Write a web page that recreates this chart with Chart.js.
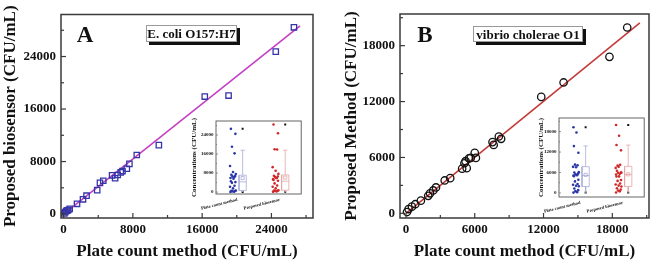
<!DOCTYPE html>
<html>
<head>
<meta charset="utf-8">
<script src="https://cdn.jsdelivr.net/npm/chart.js@4.4.1/dist/chart.umd.min.js"></script>
<style>
  html, body { margin: 0; padding: 0; background: #fff; }
  #wrap { position: relative; width: 656px; height: 264px; overflow: hidden; }
  canvas { position: absolute; }
</style>
</head>
<body>
<div id="wrap">
  <canvas id="mainA" width="328" height="264" style="left:0;top:0"></canvas>
  <canvas id="mainB" width="328" height="264" style="left:328px;top:0"></canvas>
  <canvas id="insetA" width="120" height="100" style="left:186px;top:115px"></canvas>
  <canvas id="insetB" width="120" height="106" style="left:529px;top:112px"></canvas>
</div>
<script>
// ---- data ----
// Panel A: E. coli O157:H7 (plate count vs proposed biosensor)
const plateA  = [80, 190, 320, 450, 540, 700, 1550, 2240, 2650, 3880, 4200, 4580, 5600, 5950, 6250, 6600, 6800, 7300, 7600, 8450, 11000, 16300, 19050, 24500, 26600];
const sensorA = [100, 300, 480, 560, 620, 800, 1560, 2250, 2800, 3650, 4750, 5080, 5900, 5450, 5950, 6350, 6550, 6900, 7650, 9000, 10500, 17900, 18050, 24750, 28450];
const fitAx = [0, 27300];
const fitAy = [0, 28650];
const ticksA = [0, 8000, 16000, 24000];

// Panel B: vibrio cholerae O1 (plate count vs proposed method)
const plateB  = [90, 230, 520, 810, 1300, 1940, 2100, 2380, 2620, 3380, 3860, 4900, 5300, 5100, 5200, 5500, 5650, 6000, 6100, 7550, 7650, 8100, 8300, 11800, 13750, 17750, 19300];
const methodB = [140, 460, 720, 980, 1360, 1880, 2150, 2460, 2780, 3530, 3780, 4800, 4850, 5380, 5600, 5900, 5950, 6500, 5950, 7650, 7350, 8250, 8000, 12500, 14050, 16800, 19950];
const fitBx = [0, 20400];
const fitBy = [0, 20450];
const ticksB = [0, 6000, 12000, 18000];

// inset box charts, one entry per category
const insetCats = ['Plate count method', 'Proposed biosensor'];
const boxA_min = [80, 100],    boxA_q1 = [700, 800],   boxA_med = [4300, 4600], boxA_q3 = [7100, 7200];
const boxA_hi  = [17600, 17600], boxA_max = [26600, 28450], boxA_mean = [5900, 6100];
const insetTicksA = [0, 8000, 16000, 24000];
const boxB_min = [90, 140],    boxB_q1 = [1860, 1900], boxB_med = [5100, 5400], boxB_q3 = [7700, 7800];
const boxB_hi  = [13800, 14050], boxB_max = [19300, 19950], boxB_mean = [5300, 5450];
const insetTicksB = [0, 6000, 12000, 18000];

// ---- layout / style ----
const SERIF = "'Liberation Serif', 'Times New Roman', serif";
const INK = '#111';
const CAT_POS = [1, 3];
const JITTER = [-0.12, 0.05, -0.03, 0.1, -0.08, 0.13, 0, -0.14, 0.07, -0.05, 0.11, -0.1, 0.02];

function zeroPad(s) { s.paddingLeft = s.paddingRight = s.paddingTop = s.paddingBottom = 0; }

// frame around the plot + inward ticks
const framePlugin = {
  id: 'frame',
  afterDatasetsDraw(chart, args, o) {
    const { ctx, chartArea: a } = chart;
    ctx.save();
    ctx.strokeStyle = o.color;
    ctx.lineWidth = o.width;
    ctx.strokeRect(a.left, a.top, a.right - a.left, a.bottom - a.top);
    ctx.lineWidth = o.tickWidth;
    const doTicks = (scale, horiz) => {
      const vals = scale.ticks.map(t => t.value);
      const step = vals[1] - vals[0];
      for (let k = -4; k <= vals.length * 2 + 4; k++) {
        const v = vals[0] + k * step / 2;
        if (v < scale.min || v > scale.max) continue;
        const len = k % 2 === 0 ? o.major : o.minor;
        const p = scale.getPixelForValue(v);
        ctx.beginPath();
        if (horiz) { ctx.moveTo(p, a.bottom); ctx.lineTo(p, a.bottom - len); }
        else { ctx.moveTo(a.left, p); ctx.lineTo(a.left + len, p); }
        ctx.stroke();
      }
    };
    if (o.ticksX) doTicks(chart.scales.x, true);
    if (o.ticksY) doTicks(chart.scales.y, false);
    ctx.restore();
  }
};

// panel letter and shadowed label box
const marksPlugin = {
  id: 'marks',
  afterDraw(chart, args, o) {
    const ctx = chart.ctx;
    ctx.save();
    ctx.fillStyle = INK;
    ctx.textAlign = 'center';
    ctx.textBaseline = 'alphabetic';
    ctx.font = 'bold 23px ' + SERIF;
    ctx.fillText(o.letter, o.lx, o.ly);
    ctx.fillStyle = '#111';
    ctx.fillRect(o.bx + 3, o.by + 3, o.bw, o.bh);
    ctx.fillStyle = '#fff';
    ctx.fillRect(o.bx, o.by, o.bw, o.bh);
    ctx.strokeStyle = '#999';
    ctx.lineWidth = 1;
    ctx.strokeRect(o.bx + 0.5, o.by + 0.5, o.bw - 1, o.bh - 1);
    ctx.fillStyle = INK;
    ctx.font = 'bold 13px ' + SERIF;
    ctx.fillText(o.label, o.bx + o.bw / 2, o.by + o.bh / 2 + 4.5);
    ctx.restore();
  }
};

function mainChart(id, o) {
  return new Chart(document.getElementById(id), {
    type: 'scatter',
    data: {
      datasets: [
        {
          data: o.xs.map((x, i) => ({ x, y: o.ys[i] })),
          pointStyle: o.style, pointRadius: o.r, borderColor: o.ptColor,
          backgroundColor: 'rgba(0,0,0,0)', borderWidth: 1.3
        },
        {
          type: 'line',
          data: o.fx.map((x, i) => ({ x, y: o.fy[i] })),
          borderColor: o.lineColor, borderWidth: 1.6, pointRadius: 0, fill: false
        }
      ]
    },
    options: {
      responsive: false, animation: false,
      layout: { padding: o.pad },
      plugins: {
        legend: { display: false }, tooltip: { enabled: false },
        frame: { color: '#3a3a3a', width: 1.5, tickWidth: 1.2, major: 5, minor: 3, ticksX: true, ticksY: true },
        marks: o.marks
      },
      scales: {
        x: {
          type: 'linear', min: o.xmin, max: o.xmax,
          afterBuildTicks: s => { s.ticks = o.ticks.map(v => ({ value: v })); },
          afterFit: s => { s.height = 46; zeroPad(s); },
          grid: { display: false, drawTicks: false }, border: { display: false },
          ticks: { callback: v => v, color: INK, padding: 4, maxRotation: 0, font: { family: SERIF, size: 13, weight: 'bold' } },
          title: { display: true, text: 'Plate count method (CFU/mL)', color: INK, padding: { top: 0, bottom: 2 }, font: { family: SERIF, size: 17, weight: 'bold' } }
        },
        y: {
          type: 'linear', min: o.ymin, max: o.ymax,
          afterBuildTicks: s => { s.ticks = o.ticks.map(v => ({ value: v })); },
          afterFit: s => { s.width = o.yw; zeroPad(s); },
          grid: { display: false, drawTicks: false }, border: { display: false },
          ticks: { callback: v => v, color: INK, padding: 5, font: { family: SERIF, size: 13, weight: 'bold' } },
          title: { display: true, text: o.ytitle, color: INK, padding: { top: o.ytpad, bottom: 0 }, font: { family: SERIF, size: 17, weight: 'bold' } }
        }
      }
    },
    plugins: [framePlugin, marksPlugin]
  });
}

function boxDatasets(vals, b, dotColors, boxColors) {
  const ds = [];
  CAT_POS.forEach((c, i) => {
    const cx = c + 0.25, w = 0.17, cw = 0.1;
    ds.push({
      data: vals[i].map((v, k) => ({ x: c - 0.2 + JITTER[k % JITTER.length], y: v })),
      pointRadius: 1.3, backgroundColor: dotColors[i], borderWidth: 0
    });
    ds.push({
      type: 'line', borderColor: boxColors[i], borderWidth: 0.8, pointRadius: 0, spanGaps: false, fill: false,
      data: [
        { x: cx - w, y: b.q1[i] }, { x: cx + w, y: b.q1[i] }, { x: cx + w, y: b.q3[i] }, { x: cx - w, y: b.q3[i] }, { x: cx - w, y: b.q1[i] },
        { x: cx, y: null },
        { x: cx - w, y: b.med[i] }, { x: cx + w, y: b.med[i] },
        { x: cx, y: null },
        { x: cx, y: b.q3[i] }, { x: cx, y: b.hi[i] },
        { x: cx, y: null },
        { x: cx - cw, y: b.hi[i] }, { x: cx + cw, y: b.hi[i] },
        { x: cx, y: null },
        { x: cx, y: b.q1[i] }, { x: cx, y: b.min[i] }
      ]
    });
    ds.push({
      data: [{ x: cx, y: b.mean[i] }], pointStyle: 'rect', pointRadius: 2.2,
      borderColor: boxColors[i], backgroundColor: 'rgba(0,0,0,0)', borderWidth: 0.8
    });
    ds.push({
      data: [{ x: cx, y: b.min[i] }, { x: cx, y: b.max[i] }], pointStyle: 'rect', pointRadius: 1.4,
      backgroundColor: '#111', borderWidth: 0
    });
  });
  return ds;
}

function insetChart(id, o) {
  return new Chart(document.getElementById(id), {
    type: 'scatter',
    data: { datasets: boxDatasets(o.vals, o.box, ['#2a36a8', '#d02828'], ['#a6aad8', '#e4a4a4']) },
    options: {
      responsive: false, animation: false,
      layout: { padding: { top: 6, right: 2, left: 0, bottom: 0 } },
      plugins: {
        legend: { display: false }, tooltip: { enabled: false },
        frame: { color: '#555', width: 0.9, tickWidth: 0.6, major: 2, minor: 1, ticksX: false, ticksY: true }
      },
      scales: {
        x: {
          type: 'linear', min: 0, max: 4,
          afterBuildTicks: s => { s.ticks = CAT_POS.map(v => ({ value: v })); },
          afterFit: s => { s.height = o.xh; zeroPad(s); },
          grid: { display: false, drawTicks: false }, border: { display: false },
          ticks: { callback: v => insetCats[CAT_POS.indexOf(v)], autoSkip: false, minRotation: 14, maxRotation: 14, color: INK, padding: 3, font: { family: SERIF, size: 4.5, weight: 'bold' } }
        },
        y: {
          type: 'linear', min: o.ymin, max: o.ymax,
          afterBuildTicks: s => { s.ticks = o.ticks.map(v => ({ value: v })); },
          afterFit: s => { s.width = 30; zeroPad(s); },
          grid: { display: false, drawTicks: false }, border: { display: false },
          ticks: { callback: v => v, color: INK, padding: 2.5, font: { family: SERIF, size: 5, weight: 'bold' } },
          title: { display: true, text: 'Concentrations (CFU/mL)', color: INK, padding: { top: o.ytpad, bottom: 0 }, font: { family: SERIF, size: 7, weight: 'bold' } }
        }
      }
    },
    plugins: [framePlugin]
  });
}

mainChart('mainA', {
  xs: plateA, ys: sensorA, fx: fitAx, fy: fitAy, ticks: ticksA,
  style: 'rect', r: 3.8, ptColor: '#3535a8', lineColor: '#c440c4',
  xmin: -300, xmax: 28800, ymin: -600, ymax: 30400,
  pad: { top: 14.5, right: 15, bottom: 0, left: 0 }, yw: 61, ytpad: 0,
  ytitle: 'Proposed biosensor (CFU/mL)',
  marks: { letter: 'A', lx: 85, ly: 41.5, label: 'E. coli O157:H7', bx: 146, by: 25, bw: 91, bh: 17 }
});

mainChart('mainB', {
  xs: plateB, ys: methodB, fx: fitBx, fy: fitBy, ticks: ticksB,
  style: 'circle', r: 3.7, ptColor: '#111', lineColor: '#c43a3a',
  xmin: -520, xmax: 21200, ymin: -500, ymax: 21400,
  pad: { top: 14, right: 7, bottom: 0, left: 0 }, yw: 72, ytpad: 13,
  ytitle: 'Proposed Method (CFU/mL)',
  marks: { letter: 'B', lx: 97, ly: 41.5, label: 'vibrio cholerae O1', bx: 145, by: 26, bw: 110, bh: 16 }
});

insetChart('insetA', {
  vals: [plateA, sensorA],
  box: { min: boxA_min, q1: boxA_q1, med: boxA_med, q3: boxA_q3, hi: boxA_hi, max: boxA_max, mean: boxA_mean },
  ticks: insetTicksA, ymin: -800, ymax: 29900, xh: 21, ytpad: 3.8
});

insetChart('insetB', {
  vals: [plateB, methodB],
  box: { min: boxB_min, q1: boxB_q1, med: boxB_med, q3: boxB_q3, hi: boxB_hi, max: boxB_max, mean: boxB_mean },
  ticks: insetTicksB, ymin: -1200, ymax: 22000, xh: 21, ytpad: 8.3
});
</script>
</body>
</html>
